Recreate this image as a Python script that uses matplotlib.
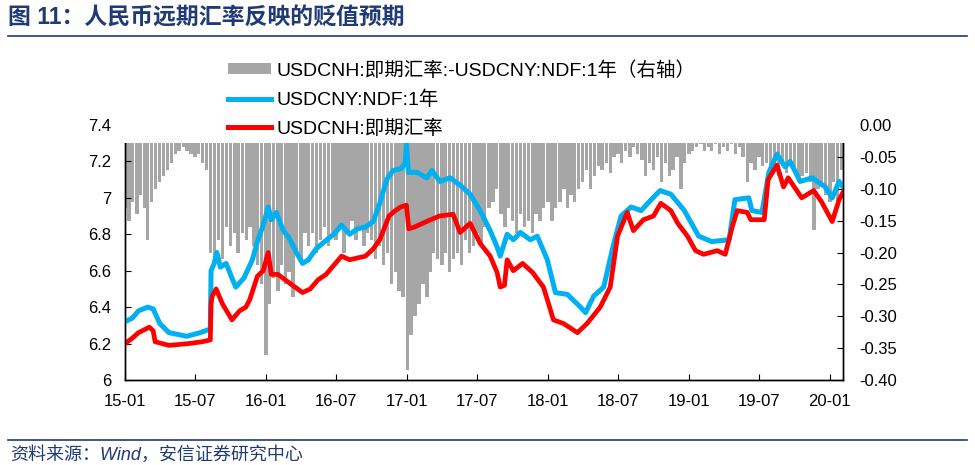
import matplotlib
matplotlib.use("Agg")
import matplotlib.pyplot as plt
import matplotlib.dates as mdates
from matplotlib.patches import Rectangle
from matplotlib.lines import Line2D
from matplotlib.ticker import FuncFormatter
import pandas as pd

plt.rcParams['font.family'] = ['Liberation Sans', 'Noto Sans CJK SC', 'DejaVu Sans']
plt.rcParams['axes.unicode_minus'] = False

# ---------------- data ----------------
ndf_dates = ["2015-01-01","2015-01-20","2015-02-05","2015-03-01","2015-03-15","2015-04-01","2015-04-25",
             "2015-06-10","2015-07-15","2015-08-10","2015-08-12","2015-08-20","2015-08-27","2015-09-05",
             "2015-09-20","2015-10-05","2015-10-15","2015-11-05","2015-11-27","2015-12-10","2015-12-25",
             "2016-01-07","2016-01-15","2016-01-28","2016-02-15","2016-03-01","2016-03-20","2016-04-05",
             "2016-04-20","2016-05-10","2016-06-01","2016-06-25","2016-07-15","2016-08-05","2016-08-25",
             "2016-09-15","2016-10-05","2016-10-22","2016-11-09","2016-11-25","2016-12-15","2016-12-27",
             "2016-12-30","2017-01-04","2017-01-26","2017-02-21","2017-03-06","2017-03-27","2017-04-22",
             "2017-05-18","2017-06-13","2017-07-09","2017-08-04","2017-08-22","2017-08-30","2017-09-17",
             "2017-10-03","2017-10-21","2017-11-16","2017-12-04","2017-12-30","2018-01-20","2018-02-20",
             "2018-03-26","2018-04-08","2018-04-29","2018-05-25","2018-06-18","2018-07-09","2018-08-04",
             "2018-08-30","2018-09-25","2018-10-18","2018-11-15","2018-12-20","2019-01-26","2019-03-01",
             "2019-04-15","2019-04-30","2019-06-05","2019-06-13","2019-07-09","2019-07-27","2019-08-17",
             "2019-09-07","2019-09-20","2019-10-16","2019-11-16","2019-12-20","2020-01-07","2020-01-25",
             "2020-02-04"]
ndf_vals = [6.32,6.34,6.38,6.40,6.39,6.31,6.26,
            6.24,6.26,6.28,6.60,6.64,6.70,6.62,
            6.64,6.56,6.51,6.56,6.66,6.76,6.85,
            6.95,6.88,6.92,6.82,6.78,6.70,6.64,
            6.66,6.72,6.76,6.80,6.85,6.80,6.83,
            6.84,6.87,6.97,7.10,7.15,7.16,7.19,
            7.30,7.14,7.14,7.11,7.15,7.09,7.11,
            7.07,7.02,6.93,6.82,6.73,6.68,6.80,
            6.77,6.81,6.77,6.79,6.66,6.48,6.47,
            6.40,6.37,6.46,6.51,6.73,6.90,6.95,
            6.93,6.99,7.04,7.02,6.93,6.79,6.76,
            6.77,6.99,7.00,6.93,6.92,7.14,7.24,
            7.17,7.20,7.09,7.11,7.06,7.00,7.09,
            7.06]

cnh_dates = ["2015-01-01","2015-01-20","2015-02-05","2015-03-05","2015-03-15","2015-03-20","2015-04-25",
             "2015-06-15","2015-07-20","2015-08-10","2015-08-12","2015-08-15","2015-08-25","2015-09-10",
             "2015-10-05","2015-10-25","2015-11-10","2015-11-20","2015-12-10","2015-12-25","2016-01-07",
             "2016-01-15","2016-02-01","2016-02-20","2016-03-10","2016-04-05","2016-04-25","2016-05-15",
             "2016-06-05","2016-06-25","2016-07-15","2016-08-05","2016-08-25","2016-09-15","2016-10-05",
             "2016-10-22","2016-11-15","2016-11-25","2016-12-15","2016-12-30","2017-01-05","2017-01-20",
             "2017-02-20","2017-03-25","2017-04-30","2017-05-18","2017-06-13","2017-07-09","2017-08-04",
             "2017-08-22","2017-08-30","2017-09-10","2017-09-17","2017-10-03","2017-10-27","2017-11-22",
             "2017-12-20","2018-01-15","2018-02-10","2018-03-18","2018-04-12","2018-05-16","2018-06-11",
             "2018-06-30","2018-07-25","2018-08-10","2018-09-05","2018-10-01","2018-10-20","2018-11-15",
             "2018-12-03","2018-12-28","2019-01-18","2019-02-08","2019-03-15","2019-04-05","2019-04-23",
             "2019-05-06","2019-06-01","2019-06-10","2019-07-15","2019-07-25","2019-08-17","2019-09-03",
             "2019-09-15","2019-10-20","2019-11-20","2019-12-10","2020-01-07","2020-01-25","2020-02-04"]
cnh_vals = [6.20,6.23,6.26,6.29,6.27,6.21,6.19,
            6.20,6.21,6.22,6.42,6.46,6.50,6.42,
            6.33,6.38,6.40,6.44,6.57,6.60,6.70,
            6.58,6.58,6.55,6.52,6.48,6.50,6.55,
            6.58,6.63,6.68,6.66,6.67,6.68,6.72,
            6.77,6.90,6.92,6.95,6.96,6.83,6.84,
            6.87,6.90,6.91,6.81,6.86,6.75,6.68,
            6.59,6.51,6.52,6.66,6.60,6.64,6.59,
            6.51,6.33,6.31,6.26,6.31,6.40,6.51,
            6.79,6.92,6.82,6.88,6.90,6.97,6.93,
            6.86,6.79,6.71,6.69,6.71,6.69,6.84,
            6.93,6.92,6.88,6.88,7.10,7.18,7.06,
            7.11,7.00,7.04,6.98,6.87,6.99,7.03]

# spread (right axis), three readings per month (1st, 11th, 21st)
spread_vals = [
    -0.13,-0.15,-0.12, -0.14,-0.11,-0.13, -0.18,-0.12,-0.10, -0.09,-0.08,-0.07,   # 2015 Jan-Apr
    -0.06,-0.045,-0.04, -0.035,-0.04,-0.045, -0.05,-0.045,-0.06, -0.07,-0.20,-0.22, # May-Aug
    -0.18,-0.21,-0.16, -0.19,-0.17,-0.20, -0.17,-0.18,-0.16, -0.19,-0.22,-0.25,   # Sep-Dec
    -0.36,-0.28,-0.24, -0.26,-0.22,-0.25, -0.23,-0.27,-0.20, -0.21,-0.17,-0.19,   # 2016 Jan-Apr
    -0.17,-0.20,-0.18, -0.16,-0.19,-0.17, -0.18,-0.16,-0.20, -0.17,-0.15,-0.18,   # May-Aug
    -0.16,-0.19,-0.17, -0.18,-0.21,-0.19, -0.22,-0.20,-0.25, -0.23,-0.26,-0.27,   # Sep-Dec
    -0.385,-0.33,-0.30, -0.28,-0.25,-0.27, -0.23,-0.20,-0.21, -0.22,-0.20,-0.23,  # 2017 Jan-Apr
    -0.21,-0.20,-0.22, -0.18,-0.20,-0.19, -0.17,-0.19,-0.16, -0.13,-0.12,-0.10,   # May-Aug
    -0.14,-0.16,-0.13, -0.15,-0.17,-0.14, -0.16,-0.15,-0.17, -0.14,-0.15,-0.13,   # Sep-Dec
    -0.12,-0.15,-0.13, -0.12,-0.10,-0.13, -0.11,-0.12,-0.10, -0.09,-0.07,-0.10,   # 2018 Jan-Apr
    -0.08,-0.065,-0.07, -0.06,-0.075,-0.05, -0.045,-0.06,-0.04, -0.05,-0.035,-0.045, # May-Aug
    -0.055,-0.08,-0.06, -0.07,-0.05,-0.09, -0.06,-0.08,-0.07, -0.05,-0.10,-0.06,  # Sep-Dec
    -0.045,-0.04,-0.035, -0.03,-0.04,-0.035, -0.04,-0.03,-0.045, -0.035,-0.04,-0.03, # 2019 Jan-Apr
    -0.045,-0.035,-0.05, -0.09,-0.06,-0.07, -0.05,-0.065,-0.06, -0.07,-0.06,-0.08, # May-Aug
    -0.065,-0.075,-0.06, -0.07,-0.09,-0.08, -0.075,-0.09,-0.165, -0.10,-0.09,-0.11, # Sep-Dec
    -0.12,-0.09,-0.13, -0.07,                                                      # 2020 Jan-Feb
]
spread_dates = [pd.Timestamp(y, m, d) for y in range(2015, 2021) for m in range(1, 13)
                for d in (1, 11, 21)][:len(spread_vals)]

x_ticks = pd.date_range("2015-01-01", "2020-01-01", freq="6MS")
left_ticks = [6.0, 6.2, 6.4, 6.6, 6.8, 7.0, 7.2, 7.4]
right_ticks = [0.00, -0.05, -0.10, -0.15, -0.20, -0.25, -0.30, -0.35, -0.40]

title = "图 11：人民币远期汇率反映的贬值预期"
source = "资料来源：Wind，安信证券研究中心"
lab_spread = "USDCNH:即期汇率:-USDCNY:NDF:1年（右轴）"
lab_ndf = "USDCNY:NDF:1年"
lab_cnh = "USDCNH:即期汇率"

GRAY = "#A6A6A6"
BLUE = "#00B0F0"
RED = "#FF0000"
NAVY = "#1F3A75"

# ---------------- figure ----------------
fig = plt.figure(figsize=(9.75, 4.65), dpi=100)
ax = fig.add_axes([125/975, 1-380/465, (843-125)/975, (380-125)/465])
ax2 = ax.twinx()

ax2.bar(spread_dates, spread_vals, width=8.6, color=GRAY, linewidth=0)
ax.plot(pd.to_datetime(ndf_dates), ndf_vals, color=BLUE, lw=3.6, solid_joinstyle='round')
ax.plot(pd.to_datetime(cnh_dates), cnh_vals, color=RED, lw=3.4, solid_joinstyle='round')

ax.set_zorder(ax2.get_zorder() + 1)
ax.patch.set_visible(False)

ax.set_xlim(pd.Timestamp("2015-01-01"), pd.Timestamp("2020-02-04"))
ax.set_ylim(6.0, 7.4)
ax2.set_ylim(-0.40, 0.0)

ax.set_xticks(x_ticks)
ax.xaxis.set_major_formatter(mdates.DateFormatter("%y-%m"))
ax.set_yticks(left_ticks)
ax.yaxis.set_major_formatter(FuncFormatter(lambda v, p: f"{v:g}"))
ax2.set_yticks(right_ticks)
ax2.yaxis.set_major_formatter(FuncFormatter(lambda v, p: f"{v:.2f}"))

for a in (ax, ax2):
    for s in a.spines.values():
        s.set_color("black")
        s.set_linewidth(1.0)
    a.spines['top'].set_visible(False)
ax.tick_params(axis='x', direction='in', length=4, width=0.8, labelsize=12, pad=10)
ax.tick_params(axis='y', direction='in', length=4, width=0.8, labelsize=12, pad=10)
ax2.tick_params(axis='y', direction='in', length=4, width=0.8, labelsize=12, pad=12)

# white band under the legend covering the top of the plot area
ax.add_patch(Rectangle((-0.01, 7.30), 1.02, 0.12, transform=ax.get_yaxis_transform(),
                       facecolor="white", edgecolor="none", zorder=10, clip_on=False))

handles = [Rectangle((0, 0), 1, 1, facecolor=GRAY, edgecolor="none"),
           Line2D([], [], color=BLUE, lw=3.6),
           Line2D([], [], color=RED, lw=3.6)]
fig.legend(handles, [lab_spread, lab_ndf, lab_cnh], loc="upper left",
           bbox_to_anchor=(228/975, 1-61/465), frameon=False, fontsize=14,
           handlelength=2.2, handleheight=0.5, handletextpad=0.3, labelspacing=0.55,
           borderpad=0, borderaxespad=0)

# title and source
fig.text(8/975, 1-18/465, title, fontsize=16.5, fontweight='bold', color=NAVY,
         va='center', ha='left', family=['Liberation Sans', 'Noto Sans CJK SC'])
fig.add_artist(Line2D([8/975, 967/975], [1-36/465, 1-36/465], color=NAVY, lw=1.2))
fig.add_artist(Line2D([8/975, 967/975], [1-440/465, 1-440/465], color=NAVY, lw=1.2))
fig.text(10/975, 1-455/465, source, fontsize=13, style='italic', color=NAVY,
         va='center', ha='left')

fig.savefig("out.png", dpi=100)
